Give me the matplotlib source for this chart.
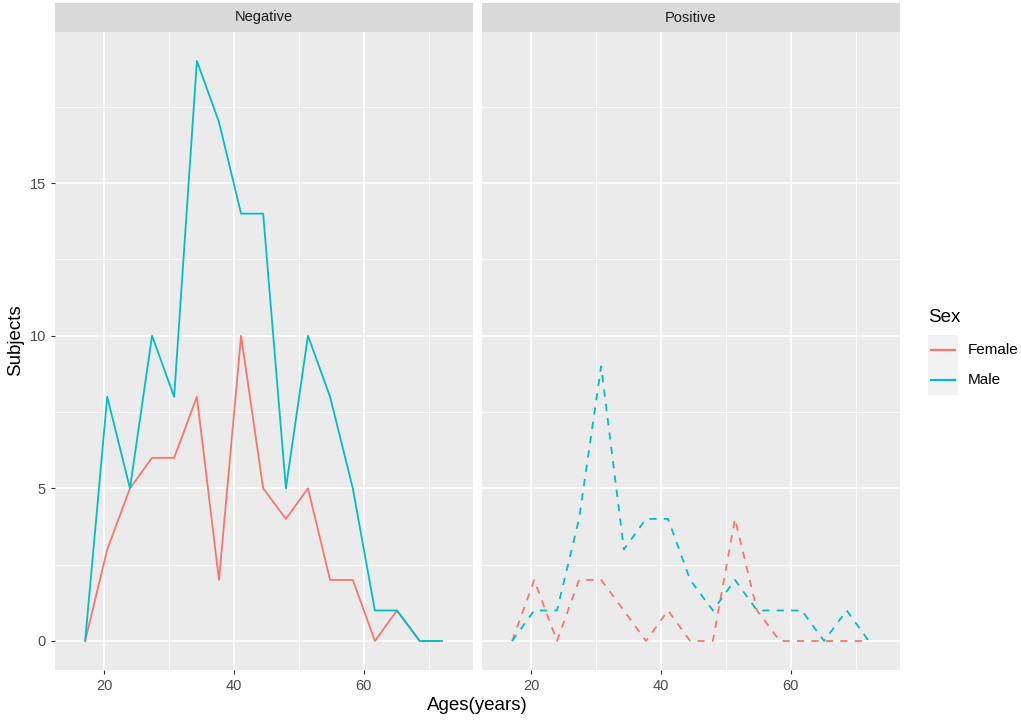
import numpy as np
import matplotlib.pyplot as plt
from matplotlib.lines import Line2D
from matplotlib.patches import Rectangle

plt.rcParams['font.family'] = ['Liberation Sans', 'DejaVu Sans']

# bin midpoints of the age frequency polygons
ages = [17.1, 20.5, 24.0, 27.4, 30.8, 34.3, 37.7, 41.1, 44.5, 48.0, 51.4,
        54.8, 58.3, 61.7, 65.1, 68.6, 72.0]

neg_female = [0, 3, 5, 6, 6, 8, 2, 10, 5, 4, 5, 2, 2, 0, 1, 0, 0]
neg_male = [0, 8, 5, 10, 8, 19, 17, 14, 14, 5, 10, 8, 5, 1, 1, 0, 0]
pos_female = [0, 2, 0, 2, 2, 1, 0, 1, 0, 0, 4, 1, 0, 0, 0, 0, 0]
pos_male = [0, 1, 1, 4, 9, 3, 4, 4, 2, 1, 2, 1, 1, 1, 0, 1, 0]

panels = ['Negative', 'Positive']
sexes = ['Female', 'Male']
female_col = '#F8766D'
male_col = '#00BFC4'

W, H = 1021, 726
fig = plt.figure(figsize=(W / 100, H / 100), dpi=100)


def rect(x0, y0, x1, y1):
    return [x0 / W, 1 - y1 / H, (x1 - x0) / W, (y1 - y0) / H]


ax1 = fig.add_axes(rect(55, 32, 473, 670))
ax2 = fig.add_axes(rect(482, 32, 900, 670))

data = [(neg_female, neg_male, '-'), (pos_female, pos_male, '--')]

for ax, name, (fem, mal, ls) in zip([ax1, ax2], panels, data):
    ax.set_facecolor('#EBEBEB')
    for s in ax.spines.values():
        s.set_visible(False)
    ax.set_xlim(12.46, 76.8)
    ax.set_ylim(-0.95, 19.95)
    for v in [30, 50, 70]:
        ax.axvline(v, color='white', lw=0.6, zorder=0)
    for v in [2.5, 7.5, 12.5, 17.5]:
        ax.axhline(v, color='white', lw=0.6, zorder=0)
    for v in [20, 40, 60]:
        ax.axvline(v, color='white', lw=1.2, zorder=0)
    for v in [0, 5, 10, 15]:
        ax.axhline(v, color='white', lw=1.2, zorder=0)
    kw = dict(lw=1.3, ls=ls)
    if ls == '--':
        kw = dict(lw=1.3, dashes=(4, 4))
    ax.plot(ages, fem, color=female_col, **kw)
    ax.plot(ages, mal, color=male_col, **kw)
    ax.set_xticks([20, 40, 60])
    ax.set_yticks([0, 5, 10, 15])
    ax.tick_params(colors='#333333', labelcolor='#4D4D4D', labelsize=10.5,
                   length=3, width=0.8)
    # facet strip
    strip = fig.add_axes([ax.get_position().x0, 1 - 32 / H,
                          ax.get_position().width, 29 / H])
    strip.set_facecolor('#D9D9D9')
    strip.set_xticks([])
    strip.set_yticks([])
    for s in strip.spines.values():
        s.set_visible(False)
    strip.text(0.5, 0.5, name, ha='center', va='center', fontsize=10.5,
               color='#1A1A1A', transform=strip.transAxes)

ax2.tick_params(axis='y', left=False, labelleft=False)

fig.text(477 / W, 1 - 705 / H, 'Ages(years)', ha='center', va='center',
         fontsize=13.5)
fig.text(16 / W, 1 - 340 / H, 'Subjects', ha='center', va='center',
         rotation=90, fontsize=13.5)

# legend drawn by hand, ggplot style
fig.text(928 / W, 1 - 318 / H, 'Sex', ha='left', va='center', fontsize=13.5)
fig.patches.append(Rectangle((928 / W, 1 - 395 / H), 30 / W, 60 / H,
                             transform=fig.transFigure, facecolor='#F2F2F2',
                             edgecolor='none'))
for lab, col, yy in zip(sexes, [female_col, male_col], [350, 380]):
    fig.lines.append(Line2D([931 / W, 955 / W], [1 - yy / H, 1 - yy / H],
                            transform=fig.transFigure, color=col, lw=1.6))
    fig.text(968 / W, 1 - yy / H, lab, ha='left', va='center', fontsize=11)

fig.savefig('out.png', dpi=100)
